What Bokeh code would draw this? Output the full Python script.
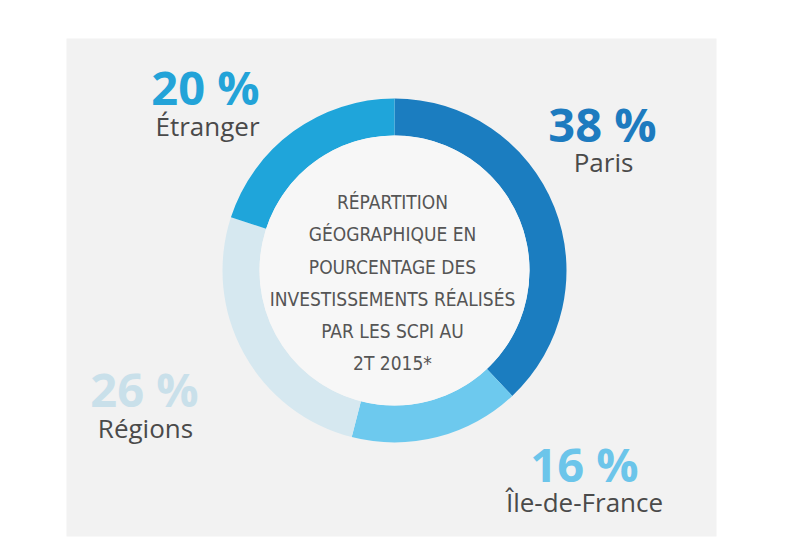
from bokeh.plotting import figure
from bokeh.models import Range1d, ColumnDataSource
from bokeh.embed import file_html
from bokeh.resources import INLINE
from bokeh.core.properties import value
import math

# ---- data ----
categories = ["Paris", "Île-de-France", "Régions", "Étranger"]
percent = [38, 16, 26, 20]
pct_labels = ["38 %", "16 %", "26 %", "20 %"]
center_lines = ["RÉPARTITION", "GÉOGRAPHIQUE EN", "POURCENTAGE DES",
                "INVESTISSEMENTS RÉALISÉS", "PAR LES SCPI AU", "2T 2015*"]

# ---- styles ----
ring_colors = ["#1b7dc0", "#6dc9ee", "#d6e8f0", "#1fa5da"]
pct_colors = ["#1d7bbf", "#6cc5ea", "#c9e0ea", "#23a3d8"]

# ---- layout (screen pixels in the 800x554 window) ----
W, H = 784, 538
def X(sx):
    return sx
def Y(sy):
    return H - sy

cx, cy = 394, 270
r_out, r_in = 172, 135
pct_xy = [(602, 123), (584, 463), (144, 388), (205, 86)]
name_xy = [(603, 161), (584, 501), (145, 427), (207, 125)]
line_baselines = [201, 233, 266, 298, 330, 362]

p = figure(width=W, height=H, x_range=Range1d(0, W), y_range=Range1d(0, H),
           output_backend="svg", toolbar_location=None, min_border=0)
p.axis.visible = False
p.grid.visible = False
p.outline_line_color = None
p.background_fill_color = "white"
p.border_fill_color = "white"

# panel
p.quad(left=X(66), right=X(716), bottom=Y(536), top=Y(38),
       fill_color="#f2f2f2", line_color=None)

# donut
starts, ends = [], []
acc = 0
for v in percent:
    s = math.pi / 2 - 2 * math.pi * acc / 100
    e = math.pi / 2 - 2 * math.pi * (acc + v) / 100
    starts.append(s)
    ends.append(e)
    acc += v
src = ColumnDataSource(dict(cat=categories, start=starts, end=ends, color=ring_colors))
p.annular_wedge(x=X(cx), y=Y(cy), inner_radius=r_in, outer_radius=r_out,
                start_angle="start", end_angle="end", direction="clock",
                fill_color="color", line_color=None, source=src)
p.circle(x=[X(cx)], y=[Y(cy)], radius=r_in, fill_color="#f7f7f7", line_color=None)

# percentages
psrc = ColumnDataSource(dict(x=[X(a) for a, b in pct_xy], y=[Y(b) for a, b in pct_xy],
                             t=pct_labels, c=pct_colors))
p.text(x="x", y="y", text="t", text_color="c", source=psrc,
       text_font=value("Open Sans"), text_font_style="bold", text_font_size="47px",
       text_align="center", text_baseline="alphabetic")

# category names
nsrc = ColumnDataSource(dict(x=[X(a) for a, b in name_xy], y=[Y(b) for a, b in name_xy],
                             t=categories))
p.text(x="x", y="y", text="t", source=nsrc, text_color="#4a4a4a",
       text_font=value("Open Sans"), text_font_size="26px",
       text_align="center", text_baseline="alphabetic")

# center text
csrc = ColumnDataSource(dict(x=[X(392)] * len(center_lines),
                             y=[Y(b) for b in line_baselines], t=center_lines))
p.text(x="x", y="y", text="t", source=csrc, text_color="#555555",
       text_font=value("'DejaVu Sans Condensed', Roboto"), text_font_size="19px",
       text_align="center", text_baseline="alphabetic")

open("out.html", "w").write(file_html(p, INLINE))
